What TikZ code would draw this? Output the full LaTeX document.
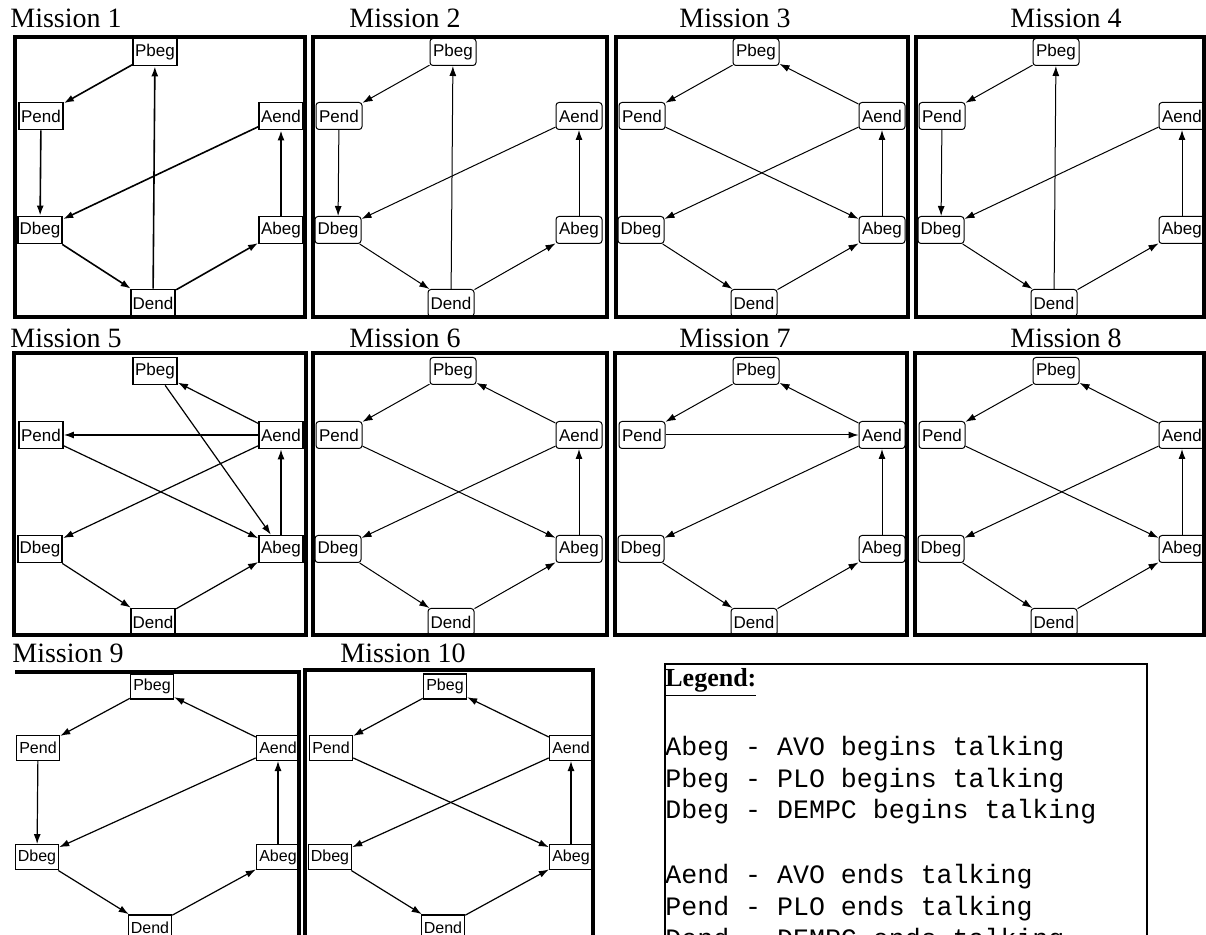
\documentclass[tikz,border=0pt]{standalone}
\usepackage{fontspec}
\setmainfont{Liberation Serif}
\setsansfont{Liberation Sans}
\setmonofont{Liberation Mono}
\usetikzlibrary{arrows.meta}

\tikzset{
  event/.style={draw, rounded corners=1.5pt, line width=0.5pt, minimum width=23pt,
    minimum height=13.5pt, inner sep=1pt, font=\fontsize{8.5}{10}\selectfont\sffamily},
  oldevent/.style={event, rounded corners=0pt, line width=0.9pt, minimum width=22pt},
  smallevent/.style={oldevent, line width=0.7pt, minimum width=21.5pt,
    minimum height=12.5pt, font=\fontsize{8}{9.5}\selectfont\sffamily},
  link/.style={-{Latex[length=5pt,width=3.5pt]}, line width=0.5pt},
  oldlink/.style={link, line width=0.8pt},
  frame/.style={line width=1.8pt},
  title/.style={anchor=base west, inner sep=0pt, font=\fontsize{14}{16}\selectfont},
  legline/.style={anchor=base west, inner sep=0pt, font=\fontsize{13.3}{16}\selectfont\ttfamily}
}

% six events of one mission: prefix, left, top, node style, vertical factor
\newcommand{\panel}[5]{%
  \node[#4] (#1Pbeg) at (#2+140,#3+15*#5) {Pbeg};
  \node[#4] (#1Pend) at (#2+26,#3+79*#5) {Pend};
  \node[#4] (#1Aend) at (#2+266,#3+79*#5) {Aend};
  \node[#4] (#1Dbeg) at (#2+25,#3+193*#5) {Dbeg};
  \node[#4] (#1Abeg) at (#2+266,#3+193*#5) {Abeg};
  \node[#4] (#1Dend) at (#2+138,#3+266*#5) {Dend};
}

\begin{document}
\begin{tikzpicture}[x=0.5pt, y=-0.5pt]
  \useasboundingbox (0,0) rectangle (1206,935);
  \clip (0,0) rectangle (1206,935);

  % titles
  \node[title] (t1) at (10,28) {Mission 1};
  \node[title] (t2) at (349,28) {Mission 2};
  \node[title] (t3) at (679,28) {Mission 3};
  \node[title] (t4) at (1010,28) {Mission 4};
  \node[title] (t5) at (10,348) {Mission 5};
  \node[title] (t6) at (349,348) {Mission 6};
  \node[title] (t7) at (679,348) {Mission 7};
  \node[title] (t8) at (1010,348) {Mission 8};
  \node[title] (t9) at (12,663) {Mission 9};
  \node[title] (t10) at (340,663) {Mission 10};

  % frames
  \draw[frame, line width=2pt] (15,37) rectangle (305,317);
  \draw[frame] (313,37) rectangle (607,317);
  \draw[frame] (616,37) rectangle (908,317);
  \draw[frame] (916,37) rectangle (1204,317);
  \draw[frame] (14,353) rectangle (306,635);
  \draw[frame] (313,353) rectangle (607,635);
  \draw[frame] (615,353) rectangle (907,635);
  \draw[frame] (915,353) rectangle (1204,635);
  \draw[frame] (15,672) -- (299,672) -- (299,945);
  \draw[frame] (305,945) -- (305,670) -- (593,670) -- (593,945);

  % events
  \panel{m1}{15}{37}{oldevent}{1}
  \panel{m2}{313}{37}{event}{1}
  \panel{m3}{616}{37}{event}{1}
  \panel{m4}{916}{37}{event}{1}
  \panel{m5}{15}{356}{oldevent}{1}
  \panel{m6}{313}{356}{event}{1}
  \panel{m7}{616}{356}{event}{1}
  \panel{m8}{916}{356}{event}{1}
  \panel{m9}{12}{672}{smallevent}{0.96}
  \panel{m10}{305}{672}{smallevent}{0.96}

  % transitions
  \foreach \a/\b in {Pbeg/Pend, Pend/Dbeg, Aend/Dbeg, Dbeg/Dend, Dend/Pbeg, Dend/Abeg, Abeg/Aend}
    \draw[oldlink] (m1\a) -- (m1\b);
  \foreach \m in {m2, m4}
    \foreach \a/\b in {Pbeg/Pend, Pend/Dbeg, Aend/Dbeg, Dbeg/Dend, Dend/Pbeg, Dend/Abeg, Abeg/Aend}
      \draw[link] (\m\a) -- (\m\b);
  \foreach \m in {m3, m6, m8}
    \foreach \a/\b in {Pbeg/Pend, Aend/Pbeg, Pend/Abeg, Aend/Dbeg, Dbeg/Dend, Dend/Abeg, Abeg/Aend}
      \draw[link] (\m\a) -- (\m\b);
  \foreach \a/\b in {Aend/Pbeg, Aend/Pend, Pbeg/Abeg, Pend/Abeg, Aend/Dbeg, Dbeg/Dend, Dend/Abeg, Abeg/Aend}
    \draw[oldlink, line width=0.6pt] (m5\a) -- (m5\b);
  \foreach \a/\b in {Pbeg/Pend, Aend/Pbeg, Pend/Aend, Aend/Dbeg, Dbeg/Dend, Dend/Abeg, Abeg/Aend}
    \draw[link] (m7\a) -- (m7\b);
  \foreach \a/\b in {Pbeg/Pend, Aend/Pbeg, Pend/Dbeg, Aend/Dbeg, Dbeg/Dend, Dend/Abeg, Abeg/Aend}
    \draw[oldlink, line width=0.6pt] (m9\a) -- (m9\b);
  \foreach \a/\b in {Pbeg/Pend, Aend/Pbeg, Pend/Abeg, Aend/Dbeg, Dbeg/Dend, Dend/Abeg, Abeg/Aend}
    \draw[oldlink, line width=0.6pt] (m10\a) -- (m10\b);

  % legend
  \draw[line width=1pt] (665,664) rectangle (1147,945);
  \node[anchor=base west, inner sep=0pt, font=\fontsize{13}{15}\selectfont\bfseries] (leghead) at (665,687) {\underline{Legend:}};
  \foreach \y/\txt [count=\i] in {755/Abeg - AVO begins talking, 787/Pbeg - PLO begins talking,
      818/Dbeg - DEMPC begins talking, 883/Aend - AVO ends talking,
      915/Pend - PLO ends talking, 947/Dend - DEMPC ends talking}
    \node[legline] (leg\i) at (665,\y) {\txt};
\end{tikzpicture}
\end{document}
